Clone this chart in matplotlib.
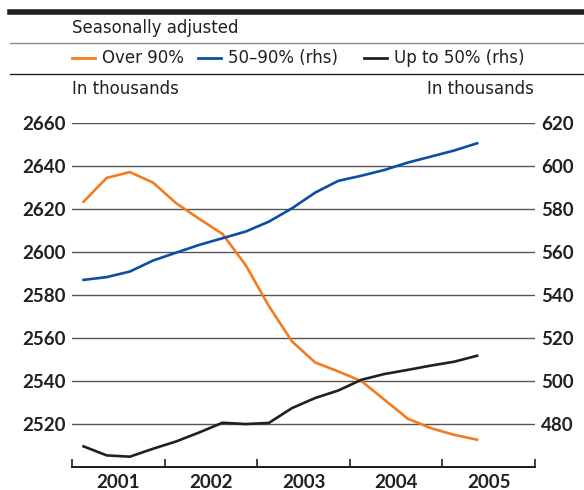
import matplotlib
matplotlib.use("Agg")
import matplotlib.pyplot as plt
from matplotlib.lines import Line2D
import numpy as np
import pandas as pd

# Quarterly series, 2001Q1 - 2005Q2 (thousands)
quarters = pd.period_range("2001Q1", "2005Q2", freq="Q")
over_90 = [2623.5, 2634.6, 2637.3, 2632.4, 2622.8, 2615.5, 2608.5, 2594.0, 2575.0,
           2558.5, 2548.7, 2544.5, 2540.0, 2531.3, 2522.5, 2518.1, 2515.0, 2512.7]
mid_50_90 = [547.1, 548.4, 551.0, 556.1, 559.8, 563.4, 566.5, 569.6, 574.2,
             580.4, 587.7, 593.2, 595.6, 598.3, 601.7, 604.5, 607.3, 610.7]
up_to_50 = [469.6, 465.4, 464.8, 468.5, 471.9, 476.1, 480.6, 480.0, 480.5,
            487.4, 492.1, 495.6, 500.6, 503.3, 505.2, 507.2, 509.0, 511.8]

years = [2001, 2002, 2003, 2004, 2005]
left_ticks = [2520, 2540, 2560, 2580, 2600, 2620, 2640, 2660]
right_ticks = [480, 500, 520, 540, 560, 580, 600, 620]
series_names = ["Over 90%", "50\u201390% (rhs)", "Up to 50% (rhs)"]

ORANGE = "#F47B20"
BLUE = "#0B4EA2"
BLACK = "#231F20"
GRID = "#555555"

# mid-quarter positions in decimal years
x = np.array([q.year + (q.quarter - 1) * 0.25 + 0.125 for q in quarters])

W, H = 584, 490
fig = plt.figure(figsize=(W / 100, H / 100), dpi=100)

ax = fig.add_axes([72 / W, 1 - 467 / H, (535 - 72) / W, (467 - 123.3) / H])
ax2 = ax.twinx()

ax.set_xlim(2001, 2006)
ax.set_ylim(2500, 2660)
ax2.set_ylim(460, 620)

for v in left_ticks:
    ax.axhline(v, color=GRID, lw=1.0, zorder=1)

ax.plot(x, over_90, color=ORANGE, lw=1.9, zorder=3)
ax2.plot(x, mid_50_90, color=BLUE, lw=1.9, zorder=3)
ax2.plot(x, up_to_50, color=BLACK, lw=1.9, zorder=3)

tick_font = dict(fontsize=13.5, fontweight="bold", color=BLACK,
                 family=["Lato", "DejaVu Sans"])
ax.set_yticks(left_ticks)
ax.set_yticklabels([str(v) for v in left_ticks], **tick_font)
ax2.set_yticks(right_ticks)
ax2.set_yticklabels([str(v) for v in right_ticks], **tick_font)
ax.tick_params(axis="y", length=0, pad=4.5)
ax2.tick_params(axis="y", length=0, pad=4.5)

# year boundaries as ticks, labels centred within each year
ax.set_xticks(list(range(2001, 2007)))
ax.set_xticklabels([])
ax.set_xticks([y + 0.5 for y in years], minor=True)
ax.set_xticklabels([str(y) for y in years], minor=True, **tick_font)
ax.tick_params(axis="x", which="major", direction="in", length=6, width=1.2, color=BLACK)
ax.tick_params(axis="x", which="minor", length=0, pad=5)

for a in (ax, ax2):
    for s in ("top", "left", "right"):
        a.spines[s].set_visible(False)
    a.spines["bottom"].set_color(BLACK)
    a.spines["bottom"].set_linewidth(1.4)
    a.patch.set_visible(False)

# header rules
fig.add_artist(Line2D([10 / W, 1], [1 - 12.3 / H, 1 - 12.3 / H], color=BLACK, lw=4.0))
fig.add_artist(Line2D([10 / W, 1], [1 - 43.5 / H, 1 - 43.5 / H], color="#8a8a8a", lw=1.0))
fig.add_artist(Line2D([10 / W, 1], [1 - 74.5 / H, 1 - 74.5 / H], color=BLACK, lw=1.0))

hdr = dict(fontsize=12, color=BLACK, va="center", family=["DejaVu Sans"])
fig.text(72 / W, 1 - 28 / H, "Seasonally adjusted", ha="left", **hdr)

# legend row
legend_items = [(72, ORANGE, series_names[0]), (198, BLUE, series_names[1]),
                (364, BLACK, series_names[2])]
ly = 1 - 58 / H
for x0, c, name in legend_items:
    fig.add_artist(Line2D([x0 / W, (x0 + 23) / W], [ly, ly], color=c, lw=2.0))
    fig.text((x0 + 30) / W, ly, name, ha="left", **hdr)

fig.text(72 / W, 1 - 89 / H, "In thousands", ha="left", **hdr)
fig.text(534 / W, 1 - 89 / H, "In thousands", ha="right", **hdr)

fig.savefig("out.png", dpi=100)
